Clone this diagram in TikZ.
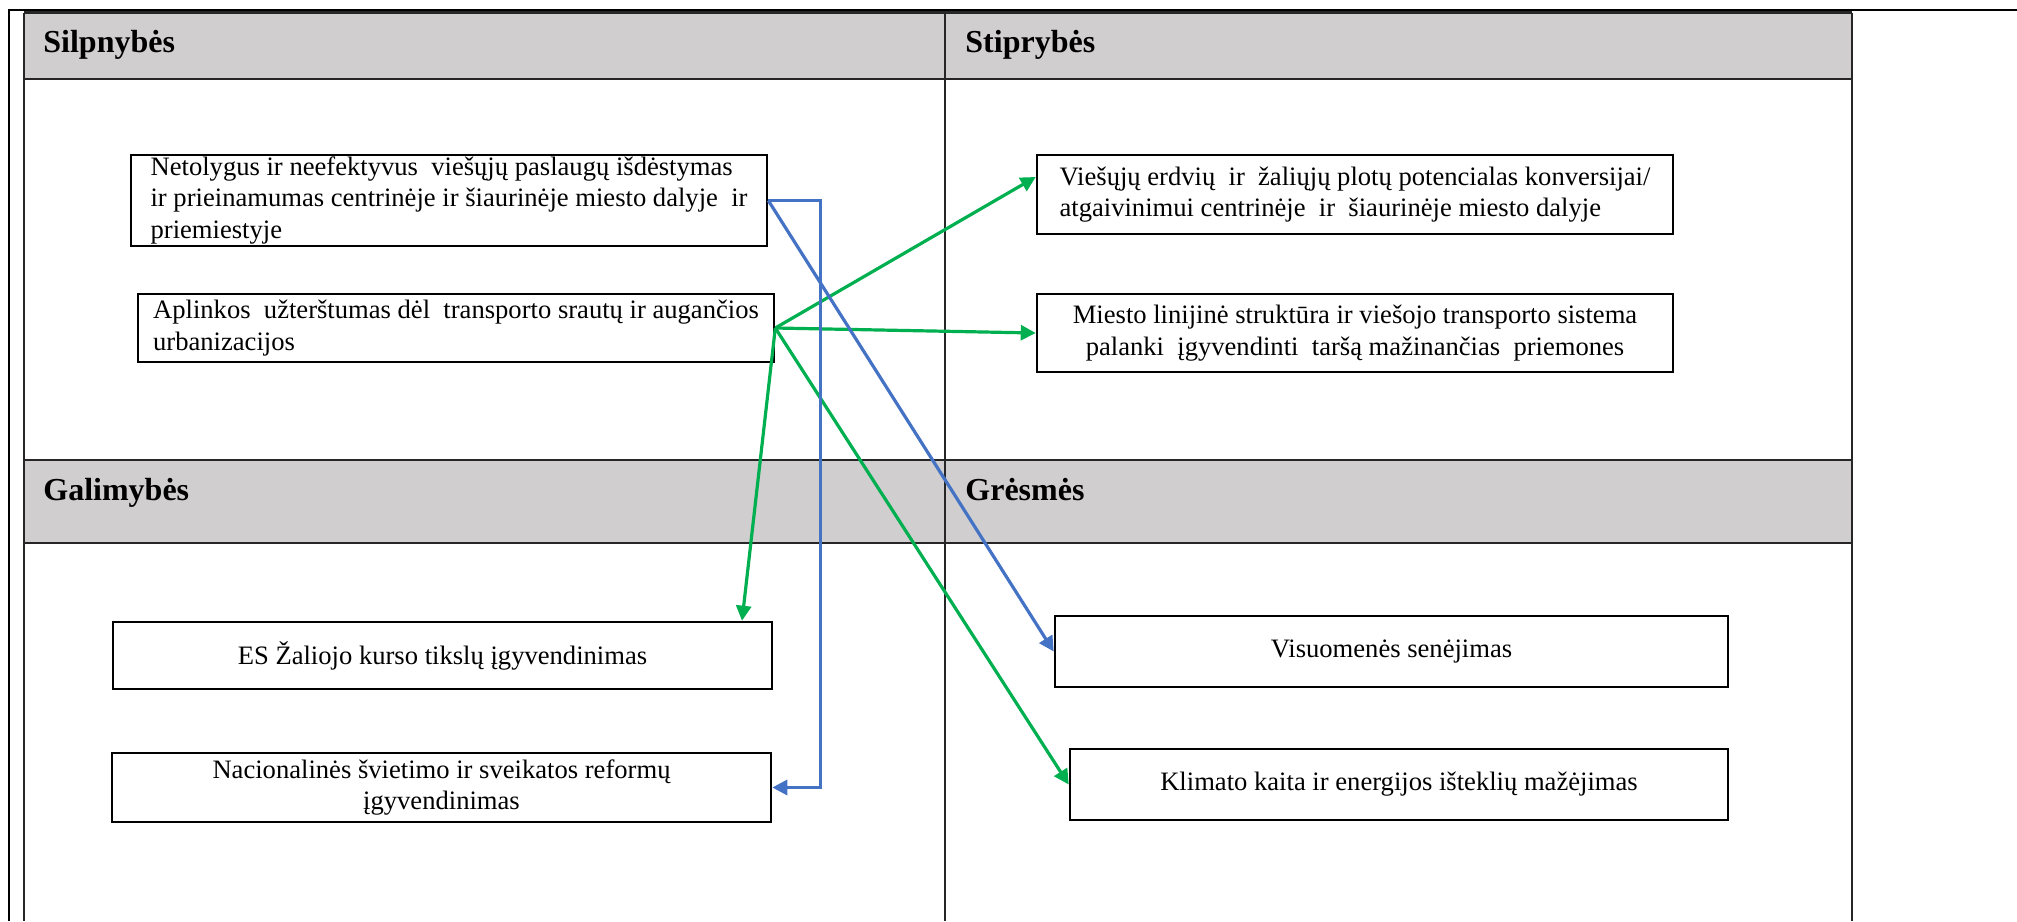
\documentclass[tikz,border=0pt]{standalone}
\usepackage{fontspec}
\setmainfont{Liberation Serif}
\usetikzlibrary{arrows.meta,positioning}
\definecolor{hdrgray}{HTML}{D0CECE}
\definecolor{arrgreen}{HTML}{00B050}
\definecolor{arrblue}{HTML}{4472C4}
\definecolor{tblline}{HTML}{262626}
\tikzset{
  cellbox/.style={draw, line width=1.3pt, inner sep=0pt, font=\fontsize{13.3}{15.75}\selectfont},
  hdrtext/.style={anchor=base west, inner sep=0pt, font=\fontsize{16}{19}\selectfont\bfseries},
  greenarr/.style={draw=arrgreen, line width=1.6pt, -{Triangle[length=7.5pt,width=7.5pt]}},
  bluearr/.style={draw=arrblue, line width=1.6pt, -{Triangle[length=7.5pt,width=7.5pt]}}
}

\begin{document}
\begin{tikzpicture}[x=0.5pt,y=-0.5pt]
\useasboundingbox (0,0) rectangle (2017,921);
%draw outer frame
\draw[line width=1.3pt] (9,921) -- (9,10) -- (2017,10);
%draw header rows
\foreach \y/\yy in {12.5/79, 460/543}{
\fill[hdrgray] (24,\y) rectangle (1852,\yy);
\draw[tblline, line width=1.2pt] (24,\y) -- (1852,\y) (24,\yy) -- (1852,\yy); }
%draw vertical lines
\foreach \x in {24, 945, 1852}{
\draw[tblline, line width=1.2pt] (\x,12.5) -- (\x,921); }
%draw headers
\node[hdrtext] (silp) at (43,52) {Silpnybės};
\node[hdrtext] (stip) at (965,52) {Stiprybės};
\node[hdrtext] (galim) at (43,500) {Galimybės};
\node[hdrtext] (gresm) at (965,500) {Grėsmės};
%draw boxes
\node[cellbox, align=left, minimum width=318pt, minimum height=45.5pt] (w1) at (449,200.5)
  {Netolygus ir neefektyvus\ \ viešųjų paslaugų išdėstymas\\ir prieinamumas centrinėje ir šiaurinėje miesto dalyje\ \ ir\\priemiestyje};
\node[cellbox, align=left, minimum width=318pt, minimum height=34pt] (w2) at (456,328)
  {Aplinkos\ \ užterštumas dėl\ \ transporto srautų ir augančios\\urbanizacijos};
\node[cellbox, align=left, minimum width=318pt, minimum height=39.5pt] (s1) at (1355,194.5)
  {Viešųjų erdvių\ \ ir\ \ žaliųjų plotų potencialas konversijai/\\atgaivinimui centrinėje\ \ ir\ \ šiaurinėje miesto dalyje};
\node[cellbox, align=center, minimum width=318pt, minimum height=39pt] (s2) at (1355,333)
  {Miesto linijinė struktūra ir viešojo transporto sistema\\palanki\ \ įgyvendinti\ \ taršą mažinančias\ \ priemones};
\node[cellbox, align=center, minimum width=329.5pt, minimum height=33.5pt] (g1) at (442.5,655.5)
  {ES Žaliojo kurso tikslų įgyvendinimas};
\node[cellbox, align=center, minimum width=329.5pt, minimum height=34.5pt] (g2) at (441.5,787.5)
  {Nacionalinės švietimo ir sveikatos reformų\\įgyvendinimas};
\node[cellbox, align=center, minimum width=336.5pt, minimum height=35.5pt] (t1) at (1391.5,651.5)
  {Visuomenės senėjimas};
\node[cellbox, align=center, minimum width=329pt, minimum height=35.5pt] (t2) at (1399,784.5)
  {Klimato kaita ir energijos išteklių mažėjimas};
%draw arrows
\draw[greenarr] (w2.east) -- ([yshift=8.75pt]s1.west);
\draw[greenarr] (w2.east) -- (s2.west);
\draw[greenarr] (w2.east) -- ([xshift=149.75pt]g1.north);
\draw[greenarr] (w2.east) -- (t2.west);
\draw[bluearr] (w1.east) -- (t1.west);
\draw[bluearr] (w1.east) -- ++(26pt,0) |- (g2.east);
\end{tikzpicture}
\end{document}
